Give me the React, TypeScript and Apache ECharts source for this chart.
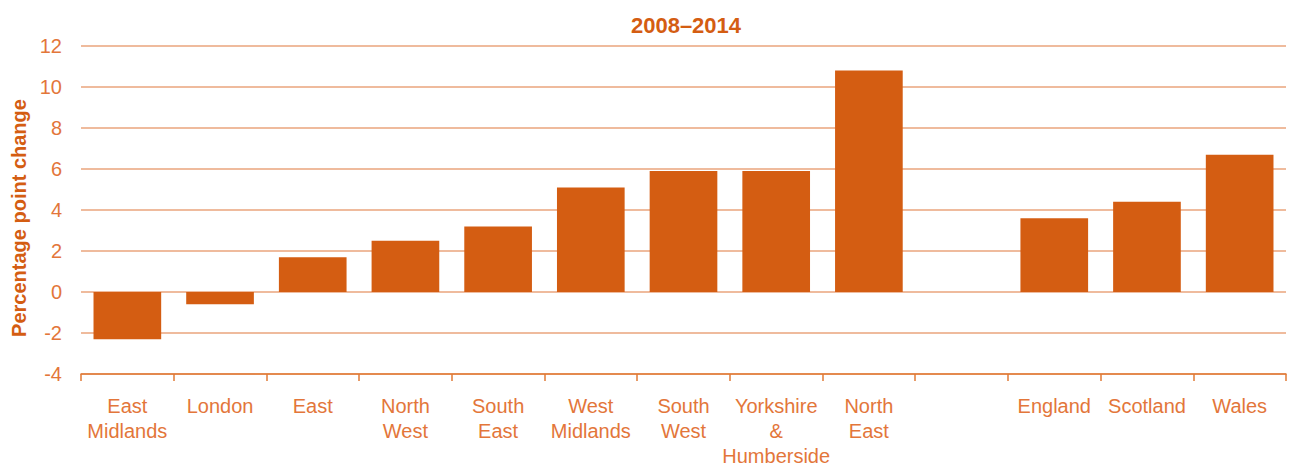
import React, { useEffect, useRef } from "react";
import * as echarts from "echarts";

const categories = [
  "East\nMidlands",
  "London",
  "East",
  "North\nWest",
  "South\nEast",
  "West\nMidlands",
  "South\nWest",
  "Yorkshire\n&\nHumberside",
  "North\nEast",
  "",
  "England",
  "Scotland",
  "Wales",
];
const values: (number | null)[] = [-2.3, -0.6, 1.7, 2.5, 3.2, 5.1, 5.9, 5.9, 10.8, null, 3.6, 4.4, 6.7];
const title = "2008–2014";
const yName = "Percentage point change";

const ORANGE = "#D45D12";
const TEXT = "#E3763A";

export default function App() {
  const ref = useRef<HTMLDivElement>(null);
  useEffect(() => {
    if (!ref.current) return;
    const chart = echarts.init(ref.current, undefined, { renderer: "svg" });
    chart.setOption({
      animation: false,
      title: {
        text: title,
        left: 681,
        textAlign: "center",
        top: 9,
        textStyle: { color: ORANGE, fontSize: 22, fontWeight: "bold", fontFamily: "Liberation Sans" },
      },
      grid: { left: 81, right: 10, top: 46, bottom: 91, outerBoundsMode: "none", containLabel: false },
      xAxis: {
        type: "category",
        data: categories,
        axisLine: { onZero: false, lineStyle: { color: "#E07A36", width: 1.5 } },
        axisTick: { show: true, length: 7, lineStyle: { color: "#E07A36", width: 1.5 } },
        axisLabel: {
          color: TEXT,
          fontSize: 20,
          fontFamily: "Liberation Sans",
          lineHeight: 25,
          margin: 19,
          interval: 0,
        },
      },
      yAxis: {
        type: "value",
        min: -4,
        max: 12,
        interval: 2,
        name: yName,
        nameLocation: "middle",
        nameGap: 51,
        nameTextStyle: {
          color: ORANGE,
          fontSize: 20,
          fontWeight: "bold",
          fontFamily: "Liberation Sans",
          padding: [0, 16, 0, 0],
        },
        axisLine: { show: false },
        axisTick: { show: false },
        axisLabel: { color: TEXT, fontSize: 20, fontFamily: "Liberation Sans", margin: 19 },
        splitLine: { lineStyle: { color: "#EAA57C", width: 1.5 } },
      },
      series: [
        {
          type: "bar",
          data: values,
          barCategoryGap: "27%",
          itemStyle: { color: ORANGE },
        },
      ],
    });
    return () => chart.dispose();
  }, []);
  return (
    <div
      ref={ref}
      style={{ position: "fixed", left: 0, top: 0, width: 1296, height: 465, background: "#fff" }}
    />
  );
}
